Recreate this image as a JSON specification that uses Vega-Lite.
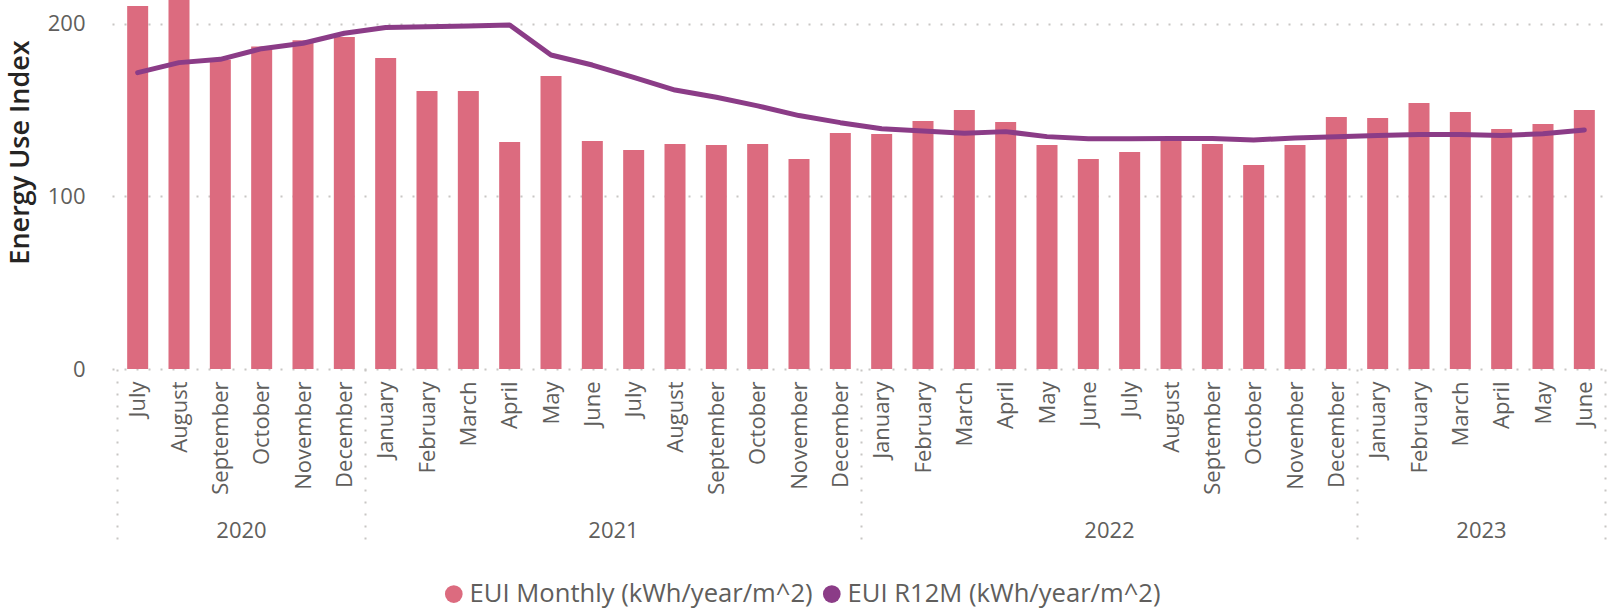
{
  "$schema": "https://vega.github.io/schema/vega-lite/v6.json",
  "width": 1498,
  "height": 369,
  "autosize": "none",
  "padding": {"left": 112, "top": 0, "right": 11, "bottom": 243},
  "background": "white",
  "config": {"view": {"stroke": null}, "font": "Open Sans"},
  "data": {"values": [
    {"idx": 0, "year": 2020, "month": "July", "monthly": 210.4, "r12m": 171.8},
    {"idx": 1, "year": 2020, "month": "August", "monthly": 218, "r12m": 177.6},
    {"idx": 2, "year": 2020, "month": "September", "monthly": 179.3, "r12m": 179.5},
    {"idx": 3, "year": 2020, "month": "October", "monthly": 187, "r12m": 185.7},
    {"idx": 4, "year": 2020, "month": "November", "monthly": 190.5, "r12m": 188.8},
    {"idx": 5, "year": 2020, "month": "December", "monthly": 192.5, "r12m": 194.6},
    {"idx": 6, "year": 2021, "month": "January", "monthly": 180.3, "r12m": 198},
    {"idx": 7, "year": 2021, "month": "February", "monthly": 161.2, "r12m": 198.4},
    {"idx": 8, "year": 2021, "month": "March", "monthly": 161.2, "r12m": 198.8},
    {"idx": 9, "year": 2021, "month": "April", "monthly": 131.6, "r12m": 199.4},
    {"idx": 10, "year": 2021, "month": "May", "monthly": 169.9, "r12m": 182},
    {"idx": 11, "year": 2021, "month": "June", "monthly": 132.2, "r12m": 176.2},
    {"idx": 12, "year": 2021, "month": "July", "monthly": 127, "r12m": 169.1},
    {"idx": 13, "year": 2021, "month": "August", "monthly": 130.4, "r12m": 161.7},
    {"idx": 14, "year": 2021, "month": "September", "monthly": 129.9, "r12m": 157.5},
    {"idx": 15, "year": 2021, "month": "October", "monthly": 130.4, "r12m": 152.5},
    {"idx": 16, "year": 2021, "month": "November", "monthly": 121.7, "r12m": 146.9},
    {"idx": 17, "year": 2021, "month": "December", "monthly": 136.8, "r12m": 142.8},
    {"idx": 18, "year": 2022, "month": "January", "monthly": 136.2, "r12m": 139.3},
    {"idx": 19, "year": 2022, "month": "February", "monthly": 143.8, "r12m": 138},
    {"idx": 20, "year": 2022, "month": "March", "monthly": 150.1, "r12m": 136.6},
    {"idx": 21, "year": 2022, "month": "April", "monthly": 143.2, "r12m": 137.6},
    {"idx": 22, "year": 2022, "month": "May", "monthly": 129.9, "r12m": 134.7},
    {"idx": 23, "year": 2022, "month": "June", "monthly": 121.7, "r12m": 133.5},
    {"idx": 24, "year": 2022, "month": "July", "monthly": 125.8, "r12m": 133.5},
    {"idx": 25, "year": 2022, "month": "August", "monthly": 133, "r12m": 133.6},
    {"idx": 26, "year": 2022, "month": "September", "monthly": 130.4, "r12m": 133.6},
    {"idx": 27, "year": 2022, "month": "October", "monthly": 118.3, "r12m": 132.8},
    {"idx": 28, "year": 2022, "month": "November", "monthly": 129.9, "r12m": 133.9},
    {"idx": 29, "year": 2022, "month": "December", "monthly": 146.1, "r12m": 134.7},
    {"idx": 30, "year": 2023, "month": "January", "monthly": 145.5, "r12m": 135.3},
    {"idx": 31, "year": 2023, "month": "February", "monthly": 154.2, "r12m": 136},
    {"idx": 32, "year": 2023, "month": "March", "monthly": 149, "r12m": 136},
    {"idx": 33, "year": 2023, "month": "April", "monthly": 139.1, "r12m": 135.3},
    {"idx": 34, "year": 2023, "month": "May", "monthly": 142, "r12m": 136.4},
    {"idx": 35, "year": 2023, "month": "June", "monthly": 150.1, "r12m": 138.6}
  ]},
  "layer": [
    {
      "mark": {"type": "bar", "color": "#DC6B7F", "size": 21, "clip": true},
      "encoding": {
        "x": {
          "field": "idx", "type": "quantitative",
          "scale": {"domain": [-0.5, 35.5], "nice": false, "zero": false},
          "axis": {
            "title": null,
            "values": [0,1,2,3,4,5,6,7,8,9,10,11,12,13,14,15,16,17,18,19,20,21,22,23,24,25,26,27,28,29,30,31,32,33,34,35],
            "labelExpr": "['July','August','September','October','November','December','January','February','March','April','May','June'][datum.value % 12]",
            "labelAngle": -90,
            "labelAlign": "right",
            "labelBaseline": "middle",
            "labelFontSize": 22,
            "labelColor": "#605E5C",
            "labelPadding": 12,
            "labelOverlap": false,
            "labelFlush": false,
            "labelBound": false,
            "ticks": false,
            "tickSize": 0,
            "domain": false,
            "grid": false
          }
        },
        "y": {
          "field": "monthly", "type": "quantitative",
          "scale": {"domain": [0, 213.9], "nice": false},
          "axis": {
            "title": "Energy Use Index",
            "values": [0, 100, 200],
            "domain": false,
            "ticks": false,
            "labelPadding": 27,
            "labelFontSize": 22,
            "labelColor": "#605E5C",
            "grid": true,
            "gridColor": "#C8C6C4",
            "gridWidth": 2,
            "gridDash": [2, 10],
            "titleFontSize": 27,
            "titleFontWeight": 600,
            "titleColor": "#252423",
            "titleAngle": -90,
            "titleAlign": "center",
            "titleBaseline": "middle",
            "titleX": -92,
            "titleY": 152
          }
        },
        "color": {
          "datum": "EUI Monthly (kWh/year/m^2)",
          "type": "nominal",
          "scale": {
            "domain": ["EUI Monthly (kWh/year/m^2)", "EUI R12M (kWh/year/m^2)"],
            "range": ["#DC6B7F", "#8B3C87"]
          },
          "legend": {
            "title": null,
            "orient": "none",
            "direction": "horizontal",
            "legendX": 329,
            "legendY": 581,
            "symbolType": "circle",
            "symbolSize": 314,
            "symbolStrokeWidth": 0,
            "labelFontSize": 25.6,
            "labelLimit": 1000,
            "labelColor": "#605E5C",
            "labelOffset": 3,
            "columnPadding": 6,
            "padding": 0
          }
        }
      }
    },
    {
      "mark": {"type": "line", "strokeWidth": 5, "strokeCap": "round", "strokeJoin": "round"},
      "encoding": {
        "x": {
          "field": "idx", "type": "quantitative",
          "axis": {
            "title": null,
            "values": [-0.5, 2.5, 5.5, 11.5, 17.5, 23.5, 29.5, 32.5, 35.5],
            "labelExpr": "datum.value == 2.5 ? '2020' : datum.value == 11.5 ? '2021' : datum.value == 23.5 ? '2022' : datum.value == 32.5 ? '2023' : ''",
            "labelAngle": 0,
            "labelAlign": "center",
            "labelBaseline": "middle",
            "labelFontSize": 22,
            "labelColor": "#605E5C",
            "labelOverlap": false,
            "labelFlush": false,
            "labelBound": false,
            "labelPadding": -17,
            "ticks": true,
            "tickSize": 178,
            "tickWidth": 2,
            "tickColor": "#C8C6C4",
            "tickDash": [2, 10],
            "tickOpacity": {"condition": {"test": "indexof([-0.5, 5.5, 17.5, 29.5, 35.5], datum.value) >= 0", "value": 1}, "value": 0},
            "domain": false,
            "grid": false,
            "orient": "bottom"
          }
        },
        "y": {"field": "r12m", "type": "quantitative"},
        "color": {"datum": "EUI R12M (kWh/year/m^2)", "type": "nominal"}
      }
    }
  ],
  "resolve": {"axis": {"x": "independent"}}
}
